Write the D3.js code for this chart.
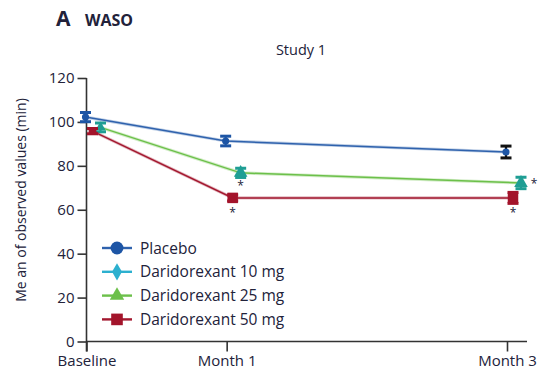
<!DOCTYPE html>
<html>
<head>
<meta charset="utf-8">
<script src="https://cdn.jsdelivr.net/npm/d3@7/dist/d3.min.js"></script>
<style>
  html, body { margin: 0; padding: 0; background: #fff; }
  text { font-family: "Open Sans", "Noto Sans", sans-serif; fill: #22223a; }
</style>
</head>
<body>
<svg id="chart" width="543" height="374"></svg>
<script>
// ---- data ----
const timepoints = ["Baseline", "Month 1", "Month 3"];
const months = [0, 1, 3];
const yTicks = [0, 20, 40, 60, 80, 100, 120];
const seriesNames = ["Placebo", "Daridorexant 10 mg", "Daridorexant 25 mg", "Daridorexant 50 mg"];
const placeboMean = [102.2, 91.3, 86.3];
const placeboSE = [2.1, 2.2, 2.7];
const dose10Mean = [];          // not studied in Study 1 (legend only)
const dose10SE = [];
const dose25Mean = [97.5, 76.8, 72.2];
const dose25SE = [2.0, 2.1, 2.6];
const dose50Mean = [95.8, 65.4, 65.4];
const dose50SE = [1.2, 1.4, 2.5];
const dose25Sig = [false, true, true];
const dose50Sig = [false, true, true];

// ---- setup ----
const svg = d3.select("#chart");
const x = d3.scaleLinear().domain([0, 3]).range([86.5, 507]);
const y = d3.scaleLinear().domain([0, 120]).range([341.5, 78]);

const styles = {
  "Placebo": { line: "#2f62ad", fill: "#1d55a5", err: ["#1d55a5", "#1d55a5", "#111"], shape: "circle", dx: -1 },
  "Daridorexant 10 mg": { line: "#2cb0cf", fill: "#2cb0cf", err: ["#2cb0cf","#2cb0cf","#2cb0cf"], shape: "diamond", dx: 10 },
  "Daridorexant 25 mg": { line: "#6cc04a", fill: "#1f9e94", err: ["#1f9e94", "#1f9e94", "#1f9e94"], shape: "triangle", dx: 14 },
  "Daridorexant 50 mg": { line: "#a3182f", fill: "#a3142b", err: ["#a3142b", "#a3142b", "#a3142b"], shape: "square", dx: 6 }
};
const legendColors = { "Placebo": ["#2f62ad", "#1d55a5"], "Daridorexant 10 mg": ["#2cb0cf", "#2cb0cf"], "Daridorexant 25 mg": ["#6cc04a", "#6cc04a"], "Daridorexant 50 mg": ["#a3182f", "#a3142b"] };

const series = [
  { name: "Placebo", mean: placeboMean, se: placeboSE, sig: [false,false,false] },
  { name: "Daridorexant 10 mg", mean: dose10Mean, se: dose10SE, sig: [] },
  { name: "Daridorexant 25 mg", mean: dose25Mean, se: dose25SE, sig: dose25Sig },
  { name: "Daridorexant 50 mg", mean: dose50Mean, se: dose50SE, sig: dose50Sig }
];

function shapePath(shape, size) {
  const t = { circle: d3.symbolCircle, diamond: d3.symbolDiamond, triangle: d3.symbolTriangle, square: d3.symbolSquare }[shape];
  return d3.symbol().type(t).size(size)();
}

// ---- title ----
svg.append("text").attr("x", 56).attr("y", 26).attr("font-size", 21).attr("font-weight", 700).attr("fill", "#26263a").text("A");
svg.append("text").attr("x", 85).attr("y", 26).attr("font-size", 16).attr("font-weight", 700).attr("fill", "#26263a").text("WASO");
svg.append("text").attr("x", 301).attr("y", 55).attr("font-size", 14.5).attr("text-anchor", "middle").text("Study 1");

// ---- axes ----
const yAxis = d3.axisLeft(y).tickValues(yTicks).tickSize(9).tickPadding(3);
const gy = svg.append("g").attr("transform", `translate(${x(0)},0)`).call(yAxis);
gy.select(".domain").attr("d", `M0,${y(120)}V${y(0) + 10}`).attr("stroke", "#333").attr("stroke-width", 1.6);
gy.selectAll(".tick line").attr("stroke", "#333").attr("stroke-width", 1.6);
gy.selectAll(".tick text").attr("font-size", 15).attr("font-family", "Open Sans").attr("fill", "#22223a").attr("dy", "0.3em");

const xAxis = d3.axisBottom(x).tickValues(months).tickFormat((d, i) => timepoints[i]).tickSize(10).tickPadding(4);
const gx = svg.append("g").attr("transform", `translate(0,${y(0)})`).call(xAxis);
gx.select(".domain").attr("d", `M${x(0)},0H527`).attr("stroke", "#333").attr("stroke-width", 1.6);
gx.selectAll(".tick line").attr("stroke", "#333").attr("stroke-width", 1.6);
gx.selectAll(".tick text").attr("font-size", 15).attr("font-family", "Open Sans").attr("fill", "#22223a");

svg.append("text")
  .attr("transform", `translate(26,200) rotate(-90)`)
  .attr("text-anchor", "middle").attr("font-size", 14)
  .text("Me an of observed values (min)");

// ---- series ----
const drawOrder = ["Placebo", "Daridorexant 25 mg", "Daridorexant 50 mg", "Daridorexant 10 mg"];
drawOrder.forEach(nm => {
  const s = series.find(d => d.name === nm);
  const st = styles[nm];
  if (!s.mean.length) return;
  const pts = s.mean.map((v, i) => ({ m: months[i], v, se: s.se[i], sig: s.sig[i], i }));
  const px = d => x(d.m) + st.dx;
  const g = svg.append("g");
  g.append("path").datum(pts)
    .attr("d", d3.line().x(px).y(d => y(d.v)))
    .attr("fill", "none").attr("stroke", st.line).attr("stroke-opacity", 0.3).attr("stroke-width", 3.2);
  g.append("path").datum(pts)
    .attr("d", d3.line().x(px).y(d => y(d.v)))
    .attr("fill", "none").attr("stroke", st.line).attr("stroke-width", 1.5);
  pts.forEach(d => {
    const cx = px(d), c = st.err[d.i];
    const y1 = y(d.v + d.se), y2 = y(d.v - d.se);
    g.append("line").attr("x1", cx).attr("x2", cx).attr("y1", y1).attr("y2", y2).attr("stroke", c).attr("stroke-width", 2.2);
    [y1, y2].forEach(yy => g.append("line").attr("x1", cx - 5.5).attr("x2", cx + 5.5).attr("y1", yy).attr("y2", yy).attr("stroke", c).attr("stroke-width", 3));
  });
  g.selectAll("path.mk").data(pts).join("path").attr("class", "mk")
    .attr("d", d => {
      if (st.shape === "square") return shapePath("square", d.i === 0 ? 60 : 110);
      if (st.shape === "triangle") return shapePath("triangle", d.i === 0 ? 45 : 80);
      return shapePath(st.shape, 40);
    })
    .attr("transform", d => `translate(${px(d)},${y(d.v)})`)
    .attr("fill", st.fill);
  pts.filter(d => d.sig).forEach(d => {
    let ax = px(d), ay = y(d.v) + 19;
    if (nm === "Daridorexant 25 mg" && d.i === 2) { ax = px(d) + 13; ay = y(d.v) + 5; }
    else if (nm === "Daridorexant 25 mg") { ay = y(d.v) + 17; }
    g.append("text").attr("x", ax).attr("y", ay).attr("text-anchor", "middle")
      .attr("font-size", 12).attr("fill", "#3b4a70").text("*");
  });
});

// ---- legend ----
const lg = svg.append("g");
seriesNames.forEach((nm, i) => {
  const yy = 248 + i * 23.8;
  const [lc, fc] = legendColors[nm];
  lg.append("line").attr("x1", 102).attr("x2", 132).attr("y1", yy).attr("y2", yy).attr("stroke", lc).attr("stroke-width", 2.4);
  const sh = styles[nm].shape;
  const size = { circle: 130, diamond: 85, triangle: 90, square: 135 }[sh];
  lg.append("path").attr("d", shapePath(sh, size)).attr("transform", `translate(117,${yy})`).attr("fill", fc);
  lg.append("text").attr("x", 140).attr("y", yy + 5.5).attr("font-size", 15.5).text(nm);
});
</script>
</body>
</html>
